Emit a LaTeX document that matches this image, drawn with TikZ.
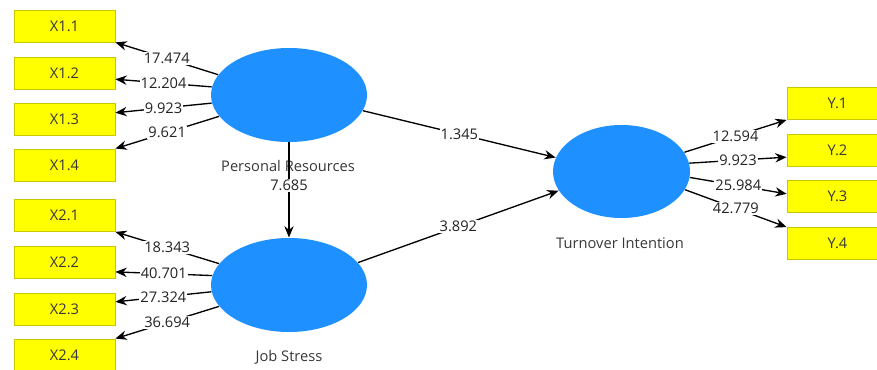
\documentclass[tikz,border=0pt]{standalone}
\usepackage{fontspec}
\setmainfont{Open Sans}
\usetikzlibrary{arrows.meta,shapes.geometric}

\tikzset{every picture/.style={line width=0.75pt}}
\tikzset{
	indicator/.style={draw={rgb, 255:red, 200; green, 200; blue, 0 }, fill={rgb, 255:red, 255; green, 255; blue, 0 }, line width=0.6pt, minimum width=75.75pt, minimum height=24pt, inner sep=0pt, text={rgb, 255:red, 55; green, 55; blue, 55 }, font=\fontsize{11}{13}\selectfont},
	construct/.style={ellipse, fill={rgb, 255:red, 30; green, 144; blue, 255 }, inner sep=0pt},
	constructlabel/.style={text={rgb, 255:red, 55; green, 55; blue, 55 }, font=\fontsize{11}{13}\selectfont},
	pathval/.style={fill=white, inner sep=0.8pt, text={rgb, 255:red, 35; green, 35; blue, 35 }, font=\fontsize{11}{13}\selectfont},
	pathline/.style={line width=1pt, -{Stealth[length=8.5pt,width=7pt]}}
}

\begin{document}
\begin{tikzpicture}[x=0.75pt,y=0.75pt,yscale=-1,xscale=1]
	\path[use as bounding box] (0,0) rectangle (877,370);
	\clip (0,0) rectangle (877,370);

	%Shape: Rectangles, Personal Resources indicators
	\node[indicator] (x11) at (64.5,26) {X1.1};
	\node[indicator] (x12) at (64.5,73) {X1.2};
	\node[indicator] (x13) at (64.5,119) {X1.3};
	\node[indicator] (x14) at (64.5,165) {X1.4};
	%Shape: Rectangles, Job Stress indicators
	\node[indicator] (x21) at (64.5,215.5) {X2.1};
	\node[indicator] (x22) at (64.5,262) {X2.2};
	\node[indicator] (x23) at (64.5,309) {X2.3};
	\node[indicator] (x24) at (64.5,355) {X2.4};
	%Shape: Rectangles, Turnover Intention indicators
	\node[indicator] (y1) at (837.5,103.5) {Y.1};
	\node[indicator] (y2) at (837.5,150) {Y.2};
	\node[indicator] (y3) at (837.5,196.5) {Y.3};
	\node[indicator] (y4) at (837.5,243.5) {Y.4};

	%Shape: Ellipses
	\node[construct, minimum width=117pt, minimum height=70.5pt] (pr) at (289,95) {};
	\node[construct, minimum width=117pt, minimum height=70.5pt] (js) at (289,285) {};
	\node[construct, minimum width=102.75pt, minimum height=69.75pt] (ti) at (621.5,171.5) {};

	% Text Node
	\node[constructlabel] (prname) at (288,166) {Personal Resources};
	% Text Node
	\node[constructlabel] (jsname) at (289,357) {Job Stress};
	% Text Node
	\node[constructlabel] (tiname) at (620,243) {Turnover Intention};

	%Straight Lines, outer loadings
	\draw[pathline] (pr.164) -- node[pathval] {17.474} (x11.south east);
	\draw[pathline] (pr.174) -- node[pathval] {12.204} (x12.-7);
	\draw[pathline] (pr.186) -- node[pathval] {9.923} (x13.7);
	\draw[pathline] (pr.197) -- node[pathval] {9.621} (x14.north east);

	\draw[pathline] (js.163) -- node[pathval] {18.343} (x21.south east);
	\draw[pathline] (js.173) -- node[pathval] {40.701} (x22.-11);
	\draw[pathline] (js.185) -- node[pathval] {27.324} (x23.8);
	\draw[pathline] (js.197) -- node[pathval] {36.694} (x24.north east);

	\draw[pathline] (ti.17) -- node[pathval] {12.594} (y1.south west);
	\draw[pathline] (ti.7) -- node[pathval] {9.923} (y2.188);
	\draw[pathline] (ti.-5) -- node[pathval] {25.984} (y3.177);
	\draw[pathline] (ti.-16) -- node[pathval] {42.779} (y4.north west);

	%Straight Lines, inner model
	\draw[pathline] (pr.south) -- node[pathval, pos=0.45] {7.685} (js.north);
	\draw[pathline] (pr.-12) -- node[pathval] {1.345} (ti.168);
	\draw[pathline] (js.18) -- node[pathval] {3.892} (ti.197);

\end{tikzpicture}
\end{document}
